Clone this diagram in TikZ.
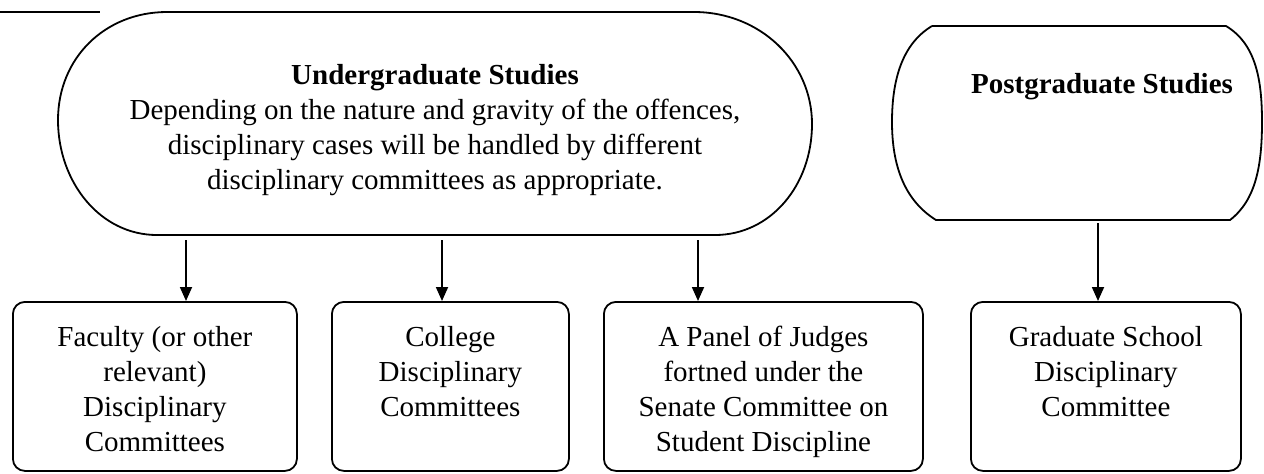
\documentclass[tikz,border=0pt]{standalone}
\usepackage{fontspec}
\setmainfont{Liberation Serif}
\usetikzlibrary{positioning,arrows.meta}
\tikzset{
  box/.style={draw, line width=0.9pt, rounded corners=6pt, anchor=north west, minimum height=84.5pt},
  lbl/.style={align=center, inner sep=0pt, font=\fontsize{14.5pt}{17.5pt}\selectfont},
  down/.style={line width=0.9pt, -{Triangle[length=7pt,width=6pt]}}
}
\begin{document}
\begin{tikzpicture}[x=0.5pt,y=-0.5pt]
   \useasboundingbox (0,0) rectangle (1264,473);
   \draw[line width=1.2pt] (0,12) -- (100,12);

   % undergraduate studies
   \draw[line width=0.9pt] (167,12) -- (694,12)
   .. controls (760,12) and (812,62) .. (812,124)
   .. controls (812,186) and (770,235) .. (715,235) -- (157,235)
   .. controls (100,235) and (58,182) .. (58,120)
   .. controls (58,58) and (105,12) .. (167,12);
   \node[lbl, anchor=north] (ug) at (435,64) {\textbf{Undergraduate Studies}\\
   Depending on the nature and gravity of the offences,\\
   disciplinary cases will be handled by different\\
   disciplinary committees as appropriate.};

   % postgraduate studies
   \draw[line width=0.9pt] (932,26) -- (1226,26)
   .. controls (1256,44) and (1262,80) .. (1262,122)
   .. controls (1262,165) and (1256,200) .. (1230,220) -- (936,220)
   .. controls (904,200) and (892,165) .. (892,122)
   .. controls (892,80) and (902,44) .. (932,26);
   \node[lbl, anchor=north] (pg) at (1102,73) {\textbf{Postgraduate Studies}};

   % committees
   \node[box, minimum width=142pt] (fac) at (12,301) {};
   \node[box, minimum width=118.5pt] (col) at (331,301) {};
   \node[box, minimum width=159.5pt] (pan) at (603,301) {};
   \node[box, minimum width=135pt] (grad) at (970,301) {};

   \node[lbl, below=12.5pt of fac.north] (faclbl) {Faculty (or other\\relevant)\\Disciplinary\\Committees};
   \node[lbl, below=12.5pt of col.north] (collbl) {College\\Disciplinary\\Committees};
   \node[lbl, below=12.5pt of pan.north] (panlbl) {A Panel of Judges\\fortned under the\\Senate Committee on\\Student Discipline};
   \node[lbl, below=12.5pt of grad.north] (gradlbl) {Graduate School\\Disciplinary\\Committee};

   \coordinate (u1) at (186,240);
   \coordinate (u2) at (442,240);
   \coordinate (u3) at (698,240);
   \coordinate (p1) at (1098,223);
   \draw[down] (u1) -- (u1 |- fac.north);
   \draw[down] (u2) -- (u2 |- col.north);
   \draw[down] (u3) -- (u3 |- pan.north);
   \draw[down] (p1) -- (p1 |- grad.north);
 \end{tikzpicture}
\end{document}
